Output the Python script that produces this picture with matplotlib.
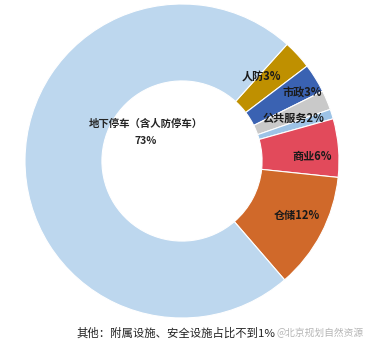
import numpy as np
import matplotlib
matplotlib.use('Agg')
import matplotlib.pyplot as plt

plt.rcParams['font.family'] = ['Noto Sans CJK SC', 'DejaVu Sans']

# slices, clockwise starting at the 人防 wedge
names = ['人防', '市政', '公共服务', '其他', '商业', '仓储', '地下停车（含人防停车）']
values = [3, 3, 2, 1, 6, 12, 73]
labels = ['人防3%', '市政3%', '公共服务2%', '', '商业6%', '仓储12%', '']
colors = ['#BF9000', '#3A62B2', '#C9C9C9', '#9DC3E6', '#E24A5B', '#D0692A', '#BDD7EE']
# label placement (radius, angular nudge in degrees)
label_r = [0.74, 0.88, 0.76, 0, 0.83, 0.81, 0]
label_da = [4, -2, -2, 0, -3, 2, 0]
note = '其他：附属设施、安全设施占比不到1%'
watermark = '@北京规划自然资源'

fig = plt.figure(figsize=(3.69, 3.48), dpi=100)
cx, cy, R = 182, 161, 157
ax = fig.add_axes([(cx - R) / 369, (348 - cy - R) / 348, 2 * R / 369, 2 * R / 348])

wedges, _ = ax.pie(values, colors=colors, startangle=48, counterclock=False,
                   radius=1, wedgeprops=dict(width=0.49, edgecolor='white', linewidth=0.8))
ax.set_xlim(-1, 1)
ax.set_ylim(-1, 1)
ax.set_aspect('equal')
ax.axis('off')

for w, lab, r, da in zip(wedges, labels, label_r, label_da):
    if not lab:
        continue
    ang = np.deg2rad((w.theta1 + w.theta2) / 2 + da)
    ax.text(r * np.cos(ang), r * np.sin(ang), lab, ha='center', va='center',
            fontsize=8, fontweight='bold', color='#1a1a1a')

ax.text(-0.23, 0.235, names[-1], ha='center', va='center', fontsize=7.5,
        fontweight='bold', color='#262626')
ax.text(-0.23, 0.13, '73%', ha='center', va='center', fontsize=7.5,
        fontweight='bold', color='#262626')

fig.text(0.208, 0.043, note, ha='left', va='center', fontsize=8.2, color='#222222')
fig.text(0.748, 0.043, watermark, ha='left', va='center', fontsize=7,
         color='#b5b5b5')

fig.savefig('out.png', dpi=100)
